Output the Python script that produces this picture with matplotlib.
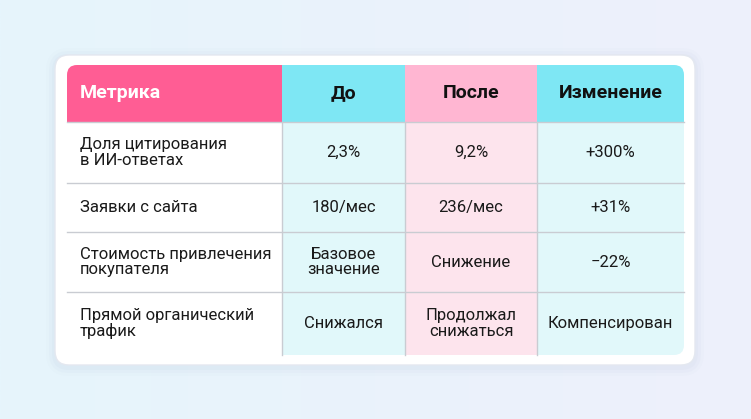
import matplotlib
matplotlib.use("Agg")
import matplotlib.pyplot as plt
from matplotlib.patches import FancyBboxPatch, Rectangle
from matplotlib.colors import LinearSegmentedColormap
import numpy as np

headers = ["Метрика", "До", "После", "Изменение"]
metrics = ["Доля цитирования\nв ИИ-ответах", "Заявки с сайта",
           "Стоимость привлечения\nпокупателя", "Прямой органический\nтрафик"]
before = ["2,3%", "180/мес", "Базовое\nзначение", "Снижался"]
after = ["9,2%", "236/мес", "Снижение", "Продолжал\nснижаться"]
change = ["+300%", "+31%", "−22%", "Компенсирован"]

W, H = 751, 419
fig = plt.figure(figsize=(W/100, H/100), dpi=100)
ax = fig.add_axes([0, 0, 1, 1])
ax.set_xlim(0, W); ax.set_ylim(H, 0); ax.axis("off")

grad = np.linspace(0, 1, 256).reshape(1, -1)
cm = LinearSegmentedColormap.from_list("bg", ["#e6f5fc", "#eef0fb"])
ax.imshow(grad, extent=[0, W, H, 0], cmap=cm, aspect="auto", zorder=0)

for i, a in enumerate([0.04, 0.03, 0.02]):
    d = 3 + 3*i
    ax.add_patch(FancyBboxPatch((55-d, 57-d), 640+2*d, 310+2*d,
                                boxstyle="round,pad=0,rounding_size=%d" % (14+d),
                                fc="#8090c0", ec="none", alpha=a, zorder=1))
ax.add_patch(FancyBboxPatch((55, 55), 640, 310, boxstyle="round,pad=0,rounding_size=14",
                            fc="white", ec="#e4e8f0", lw=1, zorder=1))

xs = [67, 282, 405, 537, 684]
ys = [65, 122, 183, 232, 292, 355]
head_colors = ["#ff5d94", "#7ee7f4", "#ffb6d2", "#7ee7f4"]
body_colors = ["#ffffff", "#e1f8fa", "#fde4ed", "#e1f8fa"]

clip = FancyBboxPatch((xs[0], ys[0]), xs[-1]-xs[0], ys[-1]-ys[0],
                      boxstyle="round,pad=0,rounding_size=10", fc="none", ec="none")
ax.add_patch(clip)
for c in range(4):
    r = Rectangle((xs[c], ys[0]), xs[c+1]-xs[c], ys[1]-ys[0], fc=head_colors[c], ec="none", zorder=2)
    ax.add_patch(r); r.set_clip_path(clip)
    r = Rectangle((xs[c], ys[1]), xs[c+1]-xs[c], ys[-1]-ys[1], fc=body_colors[c], ec="none", zorder=2)
    ax.add_patch(r); r.set_clip_path(clip)
for y in ys[1:-1]:
    ax.plot([xs[0], xs[-1]], [y, y], color="#c9ccd2", lw=1, zorder=3)
for x in xs[1:-1]:
    ax.plot([x, x], [ys[1], ys[-1]], color="#c9ccd2", lw=1, zorder=3)

font = "Roboto"
for c, h in enumerate(headers):
    if c == 0:
        ax.text(xs[0]+13, (ys[0]+ys[1])/2, h, ha="left", va="center", fontsize=14,
                fontweight="bold", color="white", family=font, zorder=4)
    else:
        ax.text((xs[c]+xs[c+1])/2, (ys[0]+ys[1])/2, h, ha="center", va="center", fontsize=14,
                fontweight="bold", color="#111111", family=font, zorder=4)
cols = [metrics, before, after, change]
for r in range(4):
    yc = (ys[r+1]+ys[r+2])/2
    for c in range(4):
        t = cols[c][r]
        if c == 0:
            ax.text(xs[0]+13, yc, t, ha="left", va="center", fontsize=12, color="#1a1a1a",
                    family=font, linespacing=1.05, zorder=4)
        else:
            ax.text((xs[c]+xs[c+1])/2, yc, t, ha="center", va="center", fontsize=12,
                    color="#1a1a1a", family=font, linespacing=1.05, zorder=4)

fig.savefig("out.png", dpi=100)
